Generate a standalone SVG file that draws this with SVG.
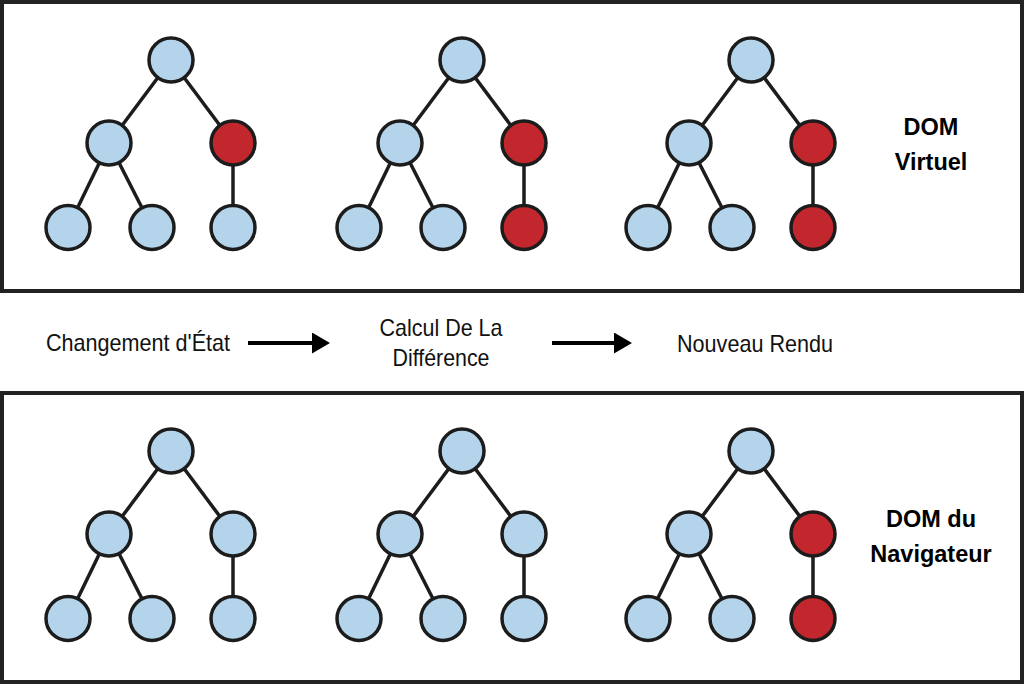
<svg xmlns="http://www.w3.org/2000/svg" width="1024" height="685" viewBox="0 0 1024 685">
<style>
.frame{fill:#ffffff;stroke:#222222;stroke-width:4}
.edge{stroke:#1c1c1c;stroke-width:3.5;fill:none}
.n{stroke:#1c1c1c;stroke-width:3.5}
.b{fill:#b3d4ea}
.r{fill:#c1272d}
.lbl{font-family:"Liberation Sans",Arial,sans-serif;font-size:23.5px;font-weight:bold;fill:#000;text-anchor:middle}
.step{font-family:"Liberation Sans",Arial,sans-serif;font-size:24px;fill:#111;text-anchor:middle}
.arrow{stroke:#000;stroke-width:4;fill:none}
</style>
<defs>
<marker id="head" markerUnits="userSpaceOnUse" markerWidth="19" markerHeight="22" refX="0" refY="10.5" orient="auto">
<path d="M0,0 L18,10.5 L0,21 Z" fill="#000"/>
</marker>
</defs>
<rect width="1024" height="685" fill="#ffffff"/>
<rect id="panel-virtual" class="frame" x="2" y="2" width="1020" height="289"/>
<rect id="panel-browser" class="frame" x="2" y="393" width="1020" height="289"/>

<g id="connectors">
<!-- top tree 1 -->
<line class="edge" x1="171" y1="60" x2="109" y2="143"/>
<line class="edge" x1="171" y1="60" x2="233" y2="143"/>
<line class="edge" x1="109" y1="143" x2="68" y2="227.5"/>
<line class="edge" x1="109" y1="143" x2="152" y2="227.5"/>
<line class="edge" x1="233" y1="143" x2="233" y2="227.5"/>
<!-- top tree 2 -->
<line class="edge" x1="462" y1="60" x2="400" y2="143"/>
<line class="edge" x1="462" y1="60" x2="524" y2="143"/>
<line class="edge" x1="400" y1="143" x2="359" y2="227.5"/>
<line class="edge" x1="400" y1="143" x2="443" y2="227.5"/>
<line class="edge" x1="524" y1="143" x2="524" y2="227.5"/>
<!-- top tree 3 -->
<line class="edge" x1="751" y1="60" x2="689" y2="143"/>
<line class="edge" x1="751" y1="60" x2="813" y2="143"/>
<line class="edge" x1="689" y1="143" x2="648" y2="227.5"/>
<line class="edge" x1="689" y1="143" x2="732" y2="227.5"/>
<line class="edge" x1="813" y1="143" x2="813" y2="227.5"/>
<!-- bottom tree 1 -->
<line class="edge" x1="171" y1="451" x2="109" y2="534"/>
<line class="edge" x1="171" y1="451" x2="233" y2="534"/>
<line class="edge" x1="109" y1="534" x2="68" y2="618.5"/>
<line class="edge" x1="109" y1="534" x2="152" y2="618.5"/>
<line class="edge" x1="233" y1="534" x2="233" y2="618.5"/>
<!-- bottom tree 2 -->
<line class="edge" x1="462" y1="451" x2="400" y2="534"/>
<line class="edge" x1="462" y1="451" x2="524" y2="534"/>
<line class="edge" x1="400" y1="534" x2="359" y2="618.5"/>
<line class="edge" x1="400" y1="534" x2="443" y2="618.5"/>
<line class="edge" x1="524" y1="534" x2="524" y2="618.5"/>
<!-- bottom tree 3 -->
<line class="edge" x1="751" y1="451" x2="689" y2="534"/>
<line class="edge" x1="751" y1="451" x2="813" y2="534"/>
<line class="edge" x1="689" y1="534" x2="648" y2="618.5"/>
<line class="edge" x1="689" y1="534" x2="732" y2="618.5"/>
<line class="edge" x1="813" y1="534" x2="813" y2="618.5"/>
<!-- process arrows -->
<line class="arrow" x1="248" y1="343" x2="312" y2="343" marker-end="url(#head)"/>
<line class="arrow" x1="552" y1="343" x2="614" y2="343" marker-end="url(#head)"/>
</g>

<!-- top tree 1 -->
<g id="t1-root"><circle class="n b" cx="171" cy="60" r="22"/></g>
<g id="t1-ml"><circle class="n b" cx="109" cy="143" r="22"/></g>
<g id="t1-mr"><circle class="n r" cx="233" cy="143" r="22"/></g>
<g id="t1-l1"><circle class="n b" cx="68" cy="227.5" r="22"/></g>
<g id="t1-l2"><circle class="n b" cx="152" cy="227.5" r="22"/></g>
<g id="t1-l3"><circle class="n b" cx="233" cy="227.5" r="22"/></g>
<!-- top tree 2 -->
<g id="t2-root"><circle class="n b" cx="462" cy="60" r="22"/></g>
<g id="t2-ml"><circle class="n b" cx="400" cy="143" r="22"/></g>
<g id="t2-mr"><circle class="n r" cx="524" cy="143" r="22"/></g>
<g id="t2-l1"><circle class="n b" cx="359" cy="227.5" r="22"/></g>
<g id="t2-l2"><circle class="n b" cx="443" cy="227.5" r="22"/></g>
<g id="t2-l3"><circle class="n r" cx="524" cy="227.5" r="22"/></g>
<!-- top tree 3 -->
<g id="t3-root"><circle class="n b" cx="751" cy="60" r="22"/></g>
<g id="t3-ml"><circle class="n b" cx="689" cy="143" r="22"/></g>
<g id="t3-mr"><circle class="n r" cx="813" cy="143" r="22"/></g>
<g id="t3-l1"><circle class="n b" cx="648" cy="227.5" r="22"/></g>
<g id="t3-l2"><circle class="n b" cx="732" cy="227.5" r="22"/></g>
<g id="t3-l3"><circle class="n r" cx="813" cy="227.5" r="22"/></g>
<!-- bottom tree 1 -->
<g id="b1-root"><circle class="n b" cx="171" cy="451" r="22"/></g>
<g id="b1-ml"><circle class="n b" cx="109" cy="534" r="22"/></g>
<g id="b1-mr"><circle class="n b" cx="233" cy="534" r="22"/></g>
<g id="b1-l1"><circle class="n b" cx="68" cy="618.5" r="22"/></g>
<g id="b1-l2"><circle class="n b" cx="152" cy="618.5" r="22"/></g>
<g id="b1-l3"><circle class="n b" cx="233" cy="618.5" r="22"/></g>
<!-- bottom tree 2 -->
<g id="b2-root"><circle class="n b" cx="462" cy="451" r="22"/></g>
<g id="b2-ml"><circle class="n b" cx="400" cy="534" r="22"/></g>
<g id="b2-mr"><circle class="n b" cx="524" cy="534" r="22"/></g>
<g id="b2-l1"><circle class="n b" cx="359" cy="618.5" r="22"/></g>
<g id="b2-l2"><circle class="n b" cx="443" cy="618.5" r="22"/></g>
<g id="b2-l3"><circle class="n b" cx="524" cy="618.5" r="22"/></g>
<!-- bottom tree 3 -->
<g id="b3-root"><circle class="n b" cx="751" cy="451" r="22"/></g>
<g id="b3-ml"><circle class="n b" cx="689" cy="534" r="22"/></g>
<g id="b3-mr"><circle class="n r" cx="813" cy="534" r="22"/></g>
<g id="b3-l1"><circle class="n b" cx="648" cy="618.5" r="22"/></g>
<g id="b3-l2"><circle class="n b" cx="732" cy="618.5" r="22"/></g>
<g id="b3-l3"><circle class="n r" cx="813" cy="618.5" r="22"/></g>

<g id="label-virtual">
<text class="lbl" x="931" y="135">DOM</text>
<text class="lbl" x="931" y="170">Virtuel</text>
</g>
<g id="label-browser">
<text class="lbl" x="931" y="527">DOM du</text>
<text class="lbl" x="931" y="562">Navigateur</text>
</g>
<g id="step-change">
<text class="step" x="138" y="351" textLength="184" lengthAdjust="spacingAndGlyphs">Changement d'État</text>
</g>
<g id="step-diff">
<text class="step" x="441" y="336" textLength="123" lengthAdjust="spacingAndGlyphs">Calcul De La</text>
<text class="step" x="441" y="366" textLength="97" lengthAdjust="spacingAndGlyphs">Différence</text>
</g>
<g id="step-render">
<text class="step" x="755" y="352" textLength="156" lengthAdjust="spacingAndGlyphs">Nouveau Rendu</text>
</g>
</svg>
